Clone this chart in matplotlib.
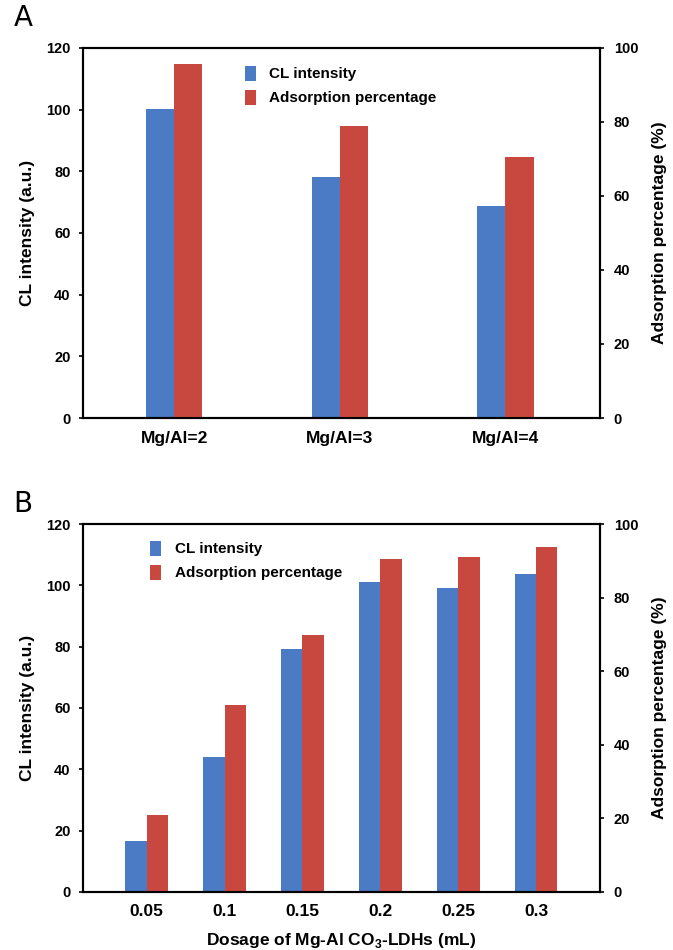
import numpy as np
import matplotlib
matplotlib.use('Agg')
import matplotlib.pyplot as plt

plt.rcParams['font.family'] = ['Liberation Sans', 'DejaVu Sans']
plt.rcParams['font.weight'] = 'bold'
plt.rcParams['axes.labelweight'] = 'bold'
plt.rcParams['mathtext.fontset'] = 'custom'
plt.rcParams['mathtext.rm'] = 'Liberation Sans:bold'
plt.rcParams['mathtext.bf'] = 'Liberation Sans:bold'

# Panel A data
ratios = ['Mg/Al=2', 'Mg/Al=3', 'Mg/Al=4']
cl_a = [100.2, 78.2, 68.6]
ads_a = [95.8, 78.8, 70.5]

# Panel B data
dosages = ['0.05', '0.1', '0.15', '0.2', '0.25', '0.3']
cl_b = [16.6, 44.1, 79.1, 101.2, 99.1, 103.7]
ads_b = [21.0, 50.9, 69.8, 90.5, 91.1, 93.7]

blue = '#4A7BC4'
red = '#C8483F'

fig = plt.figure(figsize=(6.73, 9.5), dpi=100)


def panel(rect, cats, cl, ads, width, xlim, leg_xy, letter, letter_y):
    ax = fig.add_axes(rect)
    ax2 = ax.twinx()
    x = np.arange(len(cats))
    b1 = ax.bar(x - width / 2, cl, width, color=blue, label='CL intensity')
    b2 = ax2.bar(x + width / 2, ads, width, color=red, label='Adsorption percentage')
    ax.set_xlim(*xlim)
    ax.set_ylim(0, 120)
    ax2.set_ylim(0, 100)
    ax.set_yticks(np.arange(0, 121, 20))
    ax2.set_yticks(np.arange(0, 101, 20))
    ax.set_xticks(x)
    ax.set_xticklabels(cats)
    ax.tick_params(axis='x', length=0, pad=9, labelsize=12.5)
    ax.tick_params(axis='y', length=3, width=1.2, pad=6, labelsize=10.5)
    ax2.tick_params(axis='y', length=3, width=1.2, pad=7, labelsize=10.5)
    for a in (ax, ax2):
        for sp in a.spines.values():
            sp.set_linewidth(1.5)
    ax.set_ylabel('CL intensity (a.u.)', fontsize=12.5, labelpad=8)
    ax2.set_ylabel('Adsorption percentage (%)', fontsize=12.5, labelpad=10)
    fx, fy = leg_xy
    ax.legend([b1, b2], ['CL intensity', 'Adsorption percentage'],
              loc='upper left', bbox_to_anchor=(fx, fy), bbox_transform=fig.transFigure,
              frameon=False, fontsize=11, handlelength=0.7, handleheight=1.1,
              handletextpad=0.9, labelspacing=0.55, borderaxespad=0)
    fig.text(0.02, letter_y, letter, fontsize=20, fontweight='normal', va='center',
             family='DejaVu Sans')
    return ax


panel([0.1233, 0.56, 0.768, 0.3895], ratios, cl_a, ads_a, 0.17, (-0.55, 2.57),
      (0.355, 0.937), 'A', 0.981)
axb = panel([0.1233, 0.0611, 0.768, 0.3873], dosages, cl_b, ads_b, 0.275, (-0.82, 5.82),
            (0.214, 0.437), 'B', 0.47)
axb.set_xlabel(r'Dosage of Mg-Al CO$_3$-LDHs (mL)', fontsize=12.5, labelpad=8)

fig.savefig('out.png', dpi=100)
